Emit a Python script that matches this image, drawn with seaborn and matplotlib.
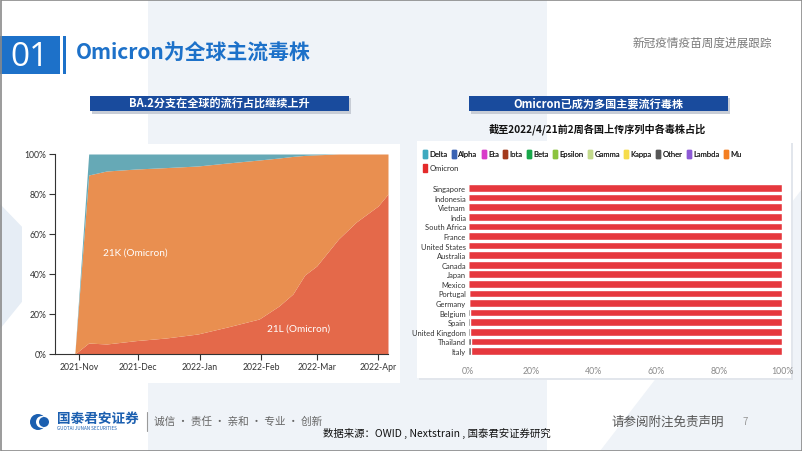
import numpy as np
import pandas as pd
import matplotlib
matplotlib.use('Agg')
import matplotlib.pyplot as plt
import matplotlib.dates as mdates
import seaborn as sns
from matplotlib.patches import Rectangle, Polygon, Circle, Patch

# left chart: global clade frequencies (%)
dates = pd.to_datetime(['2021-10-30', '2021-11-06', '2021-11-15', '2021-11-30', '2021-12-15',
                        '2021-12-31', '2022-01-15', '2022-01-31', '2022-02-10', '2022-02-17',
                        '2022-02-23', '2022-03-01', '2022-03-12', '2022-03-21', '2022-04-01',
                        '2022-04-06'])
clade_21L = [0, 5.5, 5.0, 6.7, 8.0, 10.0, 13.5, 17.5, 24.0, 30.0, 39.5, 44.0, 57.5, 66.0, 74.0, 80.0]
clade_21K = [0, 84.0, 86.5, 85.8, 85.2, 84.0, 82.0, 79.5, 74.0, 68.8, 59.8, 55.6, 42.5, 34.0, 26.0, 20.0]
clade_delta = [0, 10.5, 8.5, 7.5, 6.8, 6.0, 4.5, 3.0, 2.0, 1.2, 0.7, 0.4, 0, 0, 0, 0]

# right chart: share of variants per country (%)
countries = ['Singapore', 'Indonesia', 'Vietnam', 'India', 'South Africa', 'France',
             'United States', 'Australia', 'Canada', 'Japan', 'Mexico', 'Portugal',
             'Germany', 'Belgium', 'Spain', 'United Kingdom', 'Thailand', 'Italy']
share_delta = [0, 0, 0, 0, 0, 0, 0, 0, 0, 0, 0, 0.3, 0.3, 0, 0, 0, 0, 0]
share_other = [0, 0, 0, 0, 0, 0, 0, 0, 0, 0, 0, 0, 0, 0.5, 0.5, 0.6, 0.8, 0.8]
share_omicron = [100 - d - o for d, o in zip(share_delta, share_other)]

legend_names = ['Delta', 'Alpha', 'Eta', 'Iota', 'Beta', 'Epsilon', 'Gamma', 'Kappa',
                'Other', 'Lambda', 'Mu']
legend_colors = ['#3DA9BF', '#3A63B3', '#D83BC9', '#A33A1C', '#19A84B', '#8BC33D',
                 '#C3DA8C', '#F6DC4B', '#575757', '#8D5AD6', '#F47E20']

sns.set_theme(style='white')
plt.rcParams['font.family'] = ['Noto Sans CJK SC', 'DejaVu Sans']
NARROW = ['Lato', 'DejaVu Sans']

W, H = 802, 452
fig = plt.figure(figsize=(W / 100, H / 100), dpi=100)
fig.patch.set_facecolor('white')

# background layer in pixel coordinates
bg = fig.add_axes([0, 0, 1, 1], zorder=0)
bg.set_xlim(0, W)
bg.set_ylim(H, 0)
bg.axis('off')
light = '#EFF3F8'
bg.add_patch(Rectangle((148, 0), 399, H, color=light, lw=0))
bg.add_patch(Polygon([(600, H), (W, 190), (W, H)], color=light, lw=0))
bg.add_patch(Polygon([(0, 205), (55, 262), (0, 330)], color='#E6EDF5', lw=0))

# white chart panels
bg.add_patch(Rectangle((22, 145), 378, 222, color='white', lw=0))
bg.add_patch(Rectangle((56, 360), 344, 24, color='white', lw=0))
bg.add_patch(Rectangle((419, 144), 374, 237, color='#E2E6EC', lw=0))
bg.add_patch(Rectangle((417, 142), 374, 237, color='white', lw=0))

# header
blue = '#1D71C9'
bg.add_patch(Rectangle((0, 37), 60, 38, color=blue, lw=0))
bg.add_patch(Rectangle((63, 37), 3, 38, color=blue, lw=0))
bg.text(30, 57, '01', color='white', fontsize=24, ha='center', va='center',
        family=['Open Sans', 'DejaVu Sans'])
bg.text(76, 53, 'Omicron为全球主流毒株', color=blue, fontsize=15, fontweight='bold',
        ha='left', va='center')
bg.text(772, 43, '新冠疫情疫苗周度进展跟踪', color='#7A7A7A', fontsize=8.4,
        ha='right', va='center')

# banners
for x0, txt in [(90, 'BA.2分支在全球的流行占比继续上升'), (469, 'Omicron已成为多国主要流行毒株')]:
    bg.add_patch(Rectangle((x0 + 2, 99), 259, 16, color='#C8CDD6', lw=0))
    bg.add_patch(Rectangle((x0, 97), 259, 15, color='#194B9D', lw=0))
    bg.text(x0 + 129.5, 104.5, txt, color='white', fontsize=8, fontweight='bold',
            ha='center', va='center')
bg.text(597, 129, '截至2022/4/21前2周各国上传序列中各毒株占比', color='#111111',
        fontsize=7.3, fontweight='bold', ha='center', va='center')

# footer
bg.add_patch(Circle((38, 423), 8, color='#1B5FB0', lw=0))
bg.add_patch(Circle((42, 423), 6, color='white', lw=0))
bg.add_patch(Circle((44, 423), 5, color='#1B5FB0', lw=0))
bg.text(57, 419, '国泰君安证券', color='#1B5FB0', fontsize=9.8, fontweight='bold',
        ha='left', va='center')
bg.text(57, 429, 'GUOTAI JUNAN SECURITIES', color='#1B5FB0', fontsize=3.3,
        ha='left', va='center')
bg.plot([147, 147], [413, 432], color='#9A9A9A', lw=0.8)
bg.text(154, 422, '诚信 · 责任 · 亲和 · 专业 · 创新', color='#666666', fontsize=7.7,
        ha='left', va='center')
bg.text(323, 433, '数据来源：OWID , Nextstrain , 国泰君安证券研究', color='#111111',
        fontsize=7.5, ha='left', va='center')
bg.text(611, 422, '请参阅附注免责声明', color='#555555', fontsize=9, ha='left', va='center')
bg.text(745, 422, '7', color='#999999', fontsize=7, ha='center', va='center')
bg.add_patch(Rectangle((0.5, 0.5), W - 1, H - 1, fill=False, ec='#8A8A8A', lw=1.2))

# left chart: stacked area
ax1 = fig.add_axes([55 / W, 1 - 355 / H, 333 / W, 200 / H], zorder=2)
ax1.stackplot(dates, clade_21L, clade_21K, clade_delta,
              colors=['#E4694A', '#E98F50', '#66A9B6'], lw=0)
ax1.set_xlim(pd.Timestamp('2021-10-20'), pd.Timestamp('2022-04-06'))
ax1.set_ylim(0, 100)
ax1.set_facecolor('none')
ax1.set_yticks([0, 20, 40, 60, 80, 100])
ax1.set_yticklabels([f'{v}%' for v in [0, 20, 40, 60, 80, 100]])
ax1.set_xticks(pd.date_range('2021-11-01', '2022-04-01', freq='MS'))
ax1.xaxis.set_major_formatter(mdates.DateFormatter('%Y-%b'))
for s in ['top', 'right']:
    ax1.spines[s].set_visible(False)
for s in ['left', 'bottom']:
    ax1.spines[s].set_color('#333333')
    ax1.spines[s].set_linewidth(0.8)
ax1.tick_params(axis='both', length=4, width=0.8, color='#333333', labelsize=6.2,
                labelcolor='#333333', pad=2, bottom=True, left=True)
for lab in ax1.get_xticklabels() + ax1.get_yticklabels():
    lab.set_family(NARROW)
ax1.text(pd.Timestamp('2021-11-13'), 51, '21K (Omicron)', color='white', fontsize=7.2,
         family=NARROW, va='center')
ax1.text(pd.Timestamp('2022-02-04'), 13, '21L (Omicron)', color='white', fontsize=7.2,
         family=NARROW, va='center')

# right chart: horizontal stacked bars
df = pd.DataFrame({'country': countries, 'delta': share_delta, 'other': share_other,
                   'omicron': share_omicron})
df['total'] = df['delta'] + df['other'] + df['omicron']
df['low'] = df['delta'] + df['other']
ax2 = fig.add_axes([468 / W, 1 - 356.8 / H, 314 / W, 172.6 / H], zorder=2)
sns.barplot(data=df, x='total', y='country', color='#E6383D', saturation=1, width=0.8,
            ax=ax2)
sns.barplot(data=df, x='low', y='country', color='#666666', saturation=1, width=0.8, ax=ax2)
sns.barplot(data=df, x='delta', y='country', color='#3DA9BF', saturation=1, width=0.8,
            ax=ax2)
ax2.set_xlim(0, 100)
ax2.set_facecolor('none')
ax2.set_xlabel('')
ax2.set_ylabel('')
ax2.set_xticks([0, 20, 40, 60, 80, 100])
ax2.set_xticklabels([f'{v}%' for v in [0, 20, 40, 60, 80, 100]])
sns.despine(ax=ax2, left=True, bottom=True)
ax2.tick_params(axis='x', length=0, labelsize=6.3, labelcolor='#8A8A8A', pad=7)
ax2.tick_params(axis='y', length=0, labelsize=5.4, labelcolor='#333333', pad=1.5)
for lab in ax2.get_xticklabels() + ax2.get_yticklabels():
    lab.set_family(NARROW)

handles = [Patch(color=c, label=n) for n, c in zip(legend_names, legend_colors)]
leg1 = fig.legend(handles=handles, loc='upper left', bbox_to_anchor=(423 / W, 1 - 151 / H),
                  ncol=11, frameon=False, handlelength=0.55, handleheight=1.2,
                  handletextpad=0.3, columnspacing=0.55, borderpad=0, borderaxespad=0,
                  prop={'family': NARROW, 'size': 5.5})
fig.add_artist(leg1)
fig.legend(handles=[Patch(color='#E42A2A', label='Omicron')], loc='upper left',
           bbox_to_anchor=(423 / W, 1 - 165 / H), frameon=False, handlelength=0.55,
           handleheight=1.2, handletextpad=0.3, borderpad=0, borderaxespad=0,
           prop={'family': NARROW, 'size': 5.5})

fig.savefig('out.png', dpi=100, facecolor='white')
